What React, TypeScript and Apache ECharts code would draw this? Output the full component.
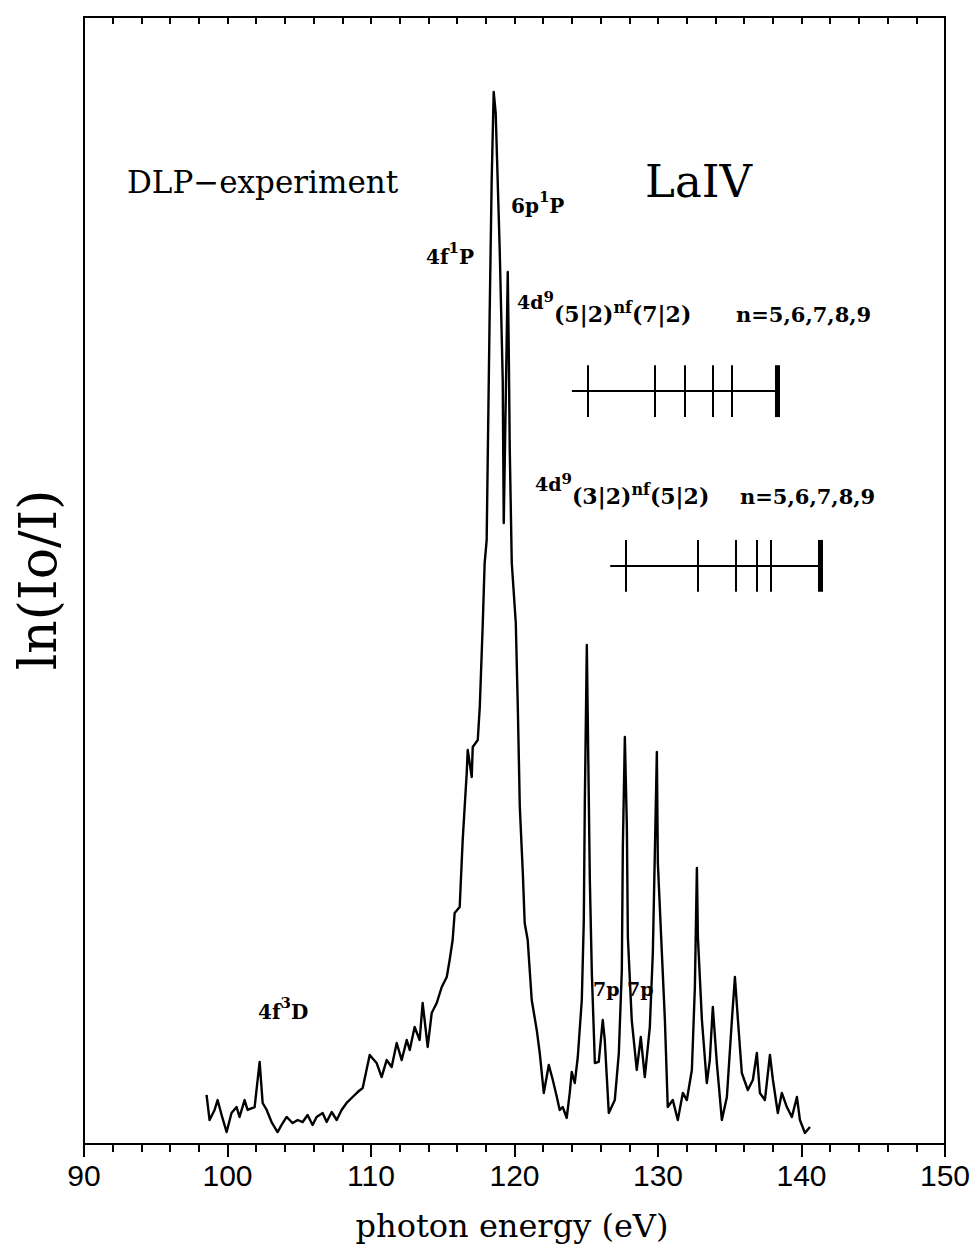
import React, { useEffect, useRef } from "react";
import * as echarts from "echarts";

// Photon energy (eV) of the traced spectrum points
const energyEV = [
  98.54, 98.75, 99.1, 99.31, 99.59, 99.94, 100.28, 100.63, 100.84, 101.19,
  101.4, 101.89, 102.24, 102.45, 102.73, 103.07, 103.49, 103.77, 104.12, 104.33,
  104.54, 104.89, 105.24, 105.58, 105.93, 106.21, 106.63, 106.91, 107.26, 107.61,
  107.95, 108.3, 108.72, 109.07, 109.42, 109.91, 110.39, 110.74, 111.09, 111.44,
  111.79, 112.14, 112.49, 112.7, 113.04, 113.39, 113.6, 113.95, 114.23, 114.58,
  114.93, 115.28, 115.48, 115.69, 115.83, 116.18, 116.39, 116.67, 116.74, 117.02,
  117.09, 117.44, 117.58, 117.79, 117.92, 118.06, 118.27, 118.41, 118.55, 118.69,
  118.97, 119.18, 119.25, 119.39, 119.53, 119.6, 119.67, 119.81, 120.09, 120.23,
  120.37, 120.58, 120.71, 120.92, 121.2, 121.55, 121.76, 122.04, 122.39, 122.67,
  122.95, 123.15, 123.36, 123.64, 123.85, 123.99, 124.2, 124.41, 124.69, 124.83,
  124.9, 125.04, 125.25, 125.39, 125.6, 125.87, 126.15, 126.29, 126.57, 126.99,
  127.27, 127.48, 127.55, 127.69, 127.83, 127.9, 128.17, 128.52, 128.8, 129.08,
  129.43, 129.64, 129.78, 129.92, 129.99, 130.27, 130.48, 130.68, 131.03, 131.38,
  131.73, 132.01, 132.36, 132.57, 132.71, 132.78, 133.06, 133.4, 133.61, 133.82,
  134.1, 134.45, 134.8, 135.15, 135.36, 135.57, 135.84, 136.26, 136.61, 136.89,
  137.1, 137.45, 137.8, 138.01, 138.35, 138.63, 138.98, 139.33, 139.68, 139.89,
  140.24, 140.59,
];

// ln(Io/I), arbitrary units (0 = bottom of frame, 100 = top)
const lnIoI = [
  4.35, 2.13, 3.02, 3.9, 2.57, 1.06, 2.75, 3.28, 2.4, 3.9,
  3.02, 3.28, 7.28, 3.64, 3.02, 1.95, 1.06, 1.69, 2.4, 2.13,
  1.86, 2.13, 1.95, 2.57, 1.69, 2.4, 2.75, 1.95, 2.84, 2.13,
  3.02, 3.64, 4.17, 4.61, 4.97, 7.9, 7.19, 5.94, 7.45, 6.83,
  8.96, 7.45, 9.23, 8.34, 10.38, 9.23, 12.51, 8.61, 11.62, 12.51,
  13.93, 14.82, 16.33, 18.1, 20.5, 21.03, 26.97, 32.92, 34.96, 32.56,
  35.23, 35.85, 38.78, 46.23, 51.55, 53.59, 73.74, 85.54, 93.35, 91.48,
  79.33, 67.79, 55.1, 66.02, 77.37, 70.45, 61.58, 51.55, 46.23, 38.78,
  29.9, 24.05, 19.61, 18.1, 12.78, 10.12, 8.07, 4.53, 7.01, 5.68,
  4.17, 3.02, 3.28, 2.31, 4.53, 6.39, 5.41, 7.72, 12.78, 19.88,
  30.26, 44.28, 23.43, 15.17, 7.19, 7.28, 11.0, 9.23, 2.75, 3.9,
  8.07, 15.44, 26.35, 36.11, 28.13, 18.37, 11.0, 6.57, 9.49, 5.94,
  10.38, 16.95, 25.82, 34.78, 24.93, 16.95, 11.0, 3.28, 3.9, 2.13,
  4.53, 3.9, 6.57, 13.93, 24.49, 18.37, 11.0, 5.41, 7.45, 12.16,
  7.19, 2.13, 4.17, 11.0, 14.82, 11.0, 6.3, 4.79, 5.68, 8.07,
  4.53, 3.9, 7.9, 5.68, 2.75, 4.53, 3.28, 2.4, 4.17, 2.13,
  0.98, 1.51,
];

const xTickValues = [90, 100, 110, 120, 130, 140, 150];

// 4d9(5/2)nf(7/2) Rydberg series, n = 5..9, and its limit (eV)
const seriesALevels = [125.07, 129.74, 131.83, 133.79, 135.11];
const seriesAStart = 124.0;
const seriesALimit = 138.3;
// 4d9(3/2)nf(5/2) Rydberg series, n = 5..9, and its limit (eV)
const seriesBLevels = [127.72, 132.74, 135.39, 136.85, 137.83];
const seriesBStart = 126.67;
const seriesBLimit = 141.32;

const SERIF = "DejaVu Serif";

function ladder(start: number, levels: number[], limit: number, y: number, h: number) {
  const items: any[] = [];
  items.push({ coords: [[start, y], [limit, y]], lineStyle: { width: 2 } });
  levels.forEach((l) => items.push({ coords: [[l, y - h], [l, y + h]], lineStyle: { width: 2 } }));
  items.push({ coords: [[limit, y - h], [limit, y + h]], lineStyle: { width: 5 } });
  return items;
}

const formulaRich = {
  b: { fontFamily: SERIF, fontSize: 22, fontWeight: "bold", color: "#000", verticalAlign: "bottom", padding: [0, 0, 0, 0] },
  pre: { fontFamily: SERIF, fontSize: 19, fontWeight: "bold", color: "#000", verticalAlign: "bottom", padding: [0, 0, 14, 0] },
  sup: { fontFamily: SERIF, fontSize: 15, fontWeight: "bold", color: "#000", verticalAlign: "bottom", padding: [0, 0, 21, 0] },
  nf: { fontFamily: SERIF, fontSize: 16, fontWeight: "bold", color: "#000", verticalAlign: "bottom", padding: [0, 0, 10, 0] },
};

const smallRich = {
  b: { fontFamily: SERIF, fontSize: 20, fontWeight: "bold", color: "#000", verticalAlign: "bottom", padding: [0, 0, 0, 0] },
  sup: { fontFamily: SERIF, fontSize: 15, fontWeight: "bold", color: "#000", verticalAlign: "bottom", padding: [0, 0, 12, 0] },
};

export default function App() {
  const ref = useRef<HTMLDivElement>(null);
  useEffect(() => {
    if (!ref.current) return;
    const chart = echarts.init(ref.current, null, { renderer: "svg" });
    const axisLineStyle = { color: "#000", width: 2 };
    chart.setOption({
      animation: false,
      backgroundColor: "#fff",
      grid: { left: 84, right: 32, top: 17, bottom: 108, show: true, borderColor: "#000", borderWidth: 2, backgroundColor: "transparent" },
      xAxis: [
        {
          type: "value", min: xTickValues[0], max: xTickValues[xTickValues.length - 1], interval: 10, position: "bottom",
          axisLine: { show: true, onZero: false, lineStyle: axisLineStyle },
          axisTick: { show: true, inside: false, length: 13, lineStyle: { color: "#000", width: 2 } },
          minorTick: { show: true, splitNumber: 5, length: 8, lineStyle: { color: "#000", width: 2 } },
          axisLabel: { show: true, fontSize: 30, fontFamily: "Liberation Sans", color: "#000", margin: 16, showMinLabel: true, showMaxLabel: true },
          splitLine: { show: false },
        },
        {
          type: "value", min: 90, max: 150, interval: 2, position: "top",
          axisLine: { show: true, onZero: false, lineStyle: axisLineStyle },
          axisTick: { show: true, inside: true, length: 7, lineStyle: { color: "#000", width: 2 } },
          axisLabel: { show: false },
          splitLine: { show: false },
        },
      ],
      yAxis: [
        {
          type: "value", min: 0, max: 100,
          axisLine: { show: true, onZero: false, lineStyle: axisLineStyle },
          axisTick: { show: false }, axisLabel: { show: false }, splitLine: { show: false },
        },
      ],
      series: [
        {
          type: "line",
          data: energyEV.map((e, i) => [e, lnIoI[i]]),
          showSymbol: false,
          symbol: "none",
          lineStyle: { color: "#000", width: 2.4, join: "round" },
          z: 3,
        },
        {
          type: "lines",
          coordinateSystem: "cartesian2d",
          polyline: false,
          lineStyle: { color: "#000", width: 2, opacity: 1 },
          data: [
            ...ladder(seriesAStart, seriesALevels, seriesALimit, 66.8, 2.3),
            ...ladder(seriesBStart, seriesBLevels, seriesBLimit, 51.3, 2.3),
          ],
          z: 4,
        },
      ],
      graphic: [
        { type: "text", x: 127, y: 182, style: { text: "DLP\u2212experiment", fontFamily: SERIF, fontSize: 31, fill: "#000", verticalAlign: "middle", align: "left" } },
        { type: "text", x: 645, y: 181, style: { text: "LaIV", fontFamily: SERIF, fontSize: 45, fill: "#000", verticalAlign: "middle", align: "left" } },
        { type: "text", x: 511, y: 216, style: { text: "{b|6p}{sup|1}{b|P}", rich: smallRich, verticalAlign: "bottom", align: "left" } },
        { type: "text", x: 426, y: 267, style: { text: "{b|4f}{sup|1}{b|P}", rich: smallRich, verticalAlign: "bottom", align: "left" } },
        { type: "text", x: 258, y: 1022, style: { text: "{b|4f}{sup|3}{b|D}", rich: smallRich, verticalAlign: "bottom", align: "left" } },
        { type: "text", x: 593, y: 989, style: { text: "7p", fontFamily: SERIF, fontSize: 19, fontWeight: "bold", fill: "#000", verticalAlign: "middle", align: "left" } },
        { type: "text", x: 627, y: 989, style: { text: "7p", fontFamily: SERIF, fontSize: 19, fontWeight: "bold", fill: "#000", verticalAlign: "middle", align: "left" } },
        { type: "text", x: 517, y: 325, style: { text: "{pre|4d}{sup|9}{b|(5|2)}{nf|nf}{b|(7|2)}", rich: formulaRich, verticalAlign: "bottom", align: "left" } },
        { type: "text", x: 736, y: 314, style: { text: "n=5,6,7,8,9", fontFamily: SERIF, fontSize: 21, fontWeight: "bold", fill: "#000", verticalAlign: "middle", align: "left" } },
        { type: "text", x: 535, y: 507, style: { text: "{pre|4d}{sup|9}{b|(3|2)}{nf|nf}{b|(5|2)}", rich: formulaRich, verticalAlign: "bottom", align: "left" } },
        { type: "text", x: 740, y: 496, style: { text: "n=5,6,7,8,9", fontFamily: SERIF, fontSize: 21, fontWeight: "bold", fill: "#000", verticalAlign: "middle", align: "left" } },
        { type: "text", x: 512, y: 1226, style: { text: "photon energy (eV)", fontFamily: SERIF, fontSize: 32, fill: "#000", verticalAlign: "middle", align: "center" } },
        { type: "text", x: 38, y: 580, rotation: Math.PI / 2, style: { text: "ln(Io/I)", fontFamily: SERIF, fontSize: 52, fill: "#000", verticalAlign: "middle", align: "center" } },
      ],
    });
    return () => chart.dispose();
  }, []);
  return (
    <div
      ref={ref}
      style={{ position: "fixed", left: 0, top: 0, width: 977, height: 1252, background: "#fff" }}
    />
  );
}
